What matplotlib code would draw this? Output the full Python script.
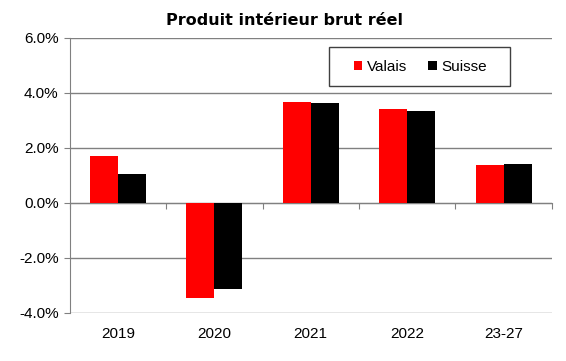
import matplotlib.pyplot as plt
from matplotlib.patches import Rectangle
import numpy as np

categories = ["2019", "2020", "2021", "2022", "23-27"]
valais = [1.69, -3.47, 3.68, 3.43, 1.39]
suisse = [1.05, -3.12, 3.65, 3.35, 1.43]
yticks = [-4, -2, 0, 2, 4, 6]

plt.rcParams['font.family'] = ['Liberation Sans', 'DejaVu Sans']

fig = plt.figure(figsize=(5.66, 3.61), dpi=100)
ax = fig.add_axes([0.123, 0.133, 0.852, 0.762])

x = np.arange(len(categories))
w = 0.29
ax.bar(x - w / 2, valais, w, color='#ff0000', label='Valais', zorder=3)
ax.bar(x + w / 2, suisse, w, color='#000000', label='Suisse', zorder=3)

ax.set_xlim(-0.5, len(categories) - 0.5)
ax.set_ylim(-4, 6)
ax.set_yticks(yticks)
ax.set_yticklabels(["%.1f%%" % v for v in yticks], fontsize=11)
ax.yaxis.grid(True, color='#808080', linewidth=1.0, zorder=0)
ax.tick_params(axis='y', direction='out', length=4, color='#808080', pad=4)

# category labels along the bottom, no tick marks
ax.set_xticks(x)
ax.set_xticklabels(categories, fontsize=11)
ax.tick_params(axis='x', length=0, pad=10)

for s in ['top', 'right', 'bottom']:
    ax.spines[s].set_visible(False)
ax.spines['left'].set_color('#808080')

# zero axis line with tick marks between categories
zero_frac = (0 - ax.get_ylim()[0]) / (ax.get_ylim()[1] - ax.get_ylim()[0])
sec = ax.secondary_xaxis(zero_frac)
sec.set_xticks(np.arange(len(categories) + 1) - 0.5)
sec.set_xticklabels([])
sec.tick_params(direction='out', length=4, color='#808080')
sec.spines['bottom'].set_color('#808080')
for s in ['top', 'left', 'right']:
    sec.spines[s].set_visible(False)

# legend box drawn separately so the padding can differ from the text spacing
ax.add_patch(Rectangle((0.538, 0.825), 0.375, 0.142, transform=ax.transAxes,
                       facecolor='white', edgecolor='#404040', linewidth=1.0,
                       zorder=4))
leg = ax.legend(loc='center', bbox_to_anchor=(0.727, 0.896), ncol=2,
                fontsize=11, frameon=False, handlelength=0.55,
                handleheight=0.55, columnspacing=1.4, handletextpad=0.3)
leg.set_zorder(5)

fig.text(0.503, 0.942, "Produit intérieur brut réel", ha='center', va='center',
         fontsize=11.5, fontweight='bold', family=['DejaVu Sans'])

fig.savefig('out.png', dpi=100)
